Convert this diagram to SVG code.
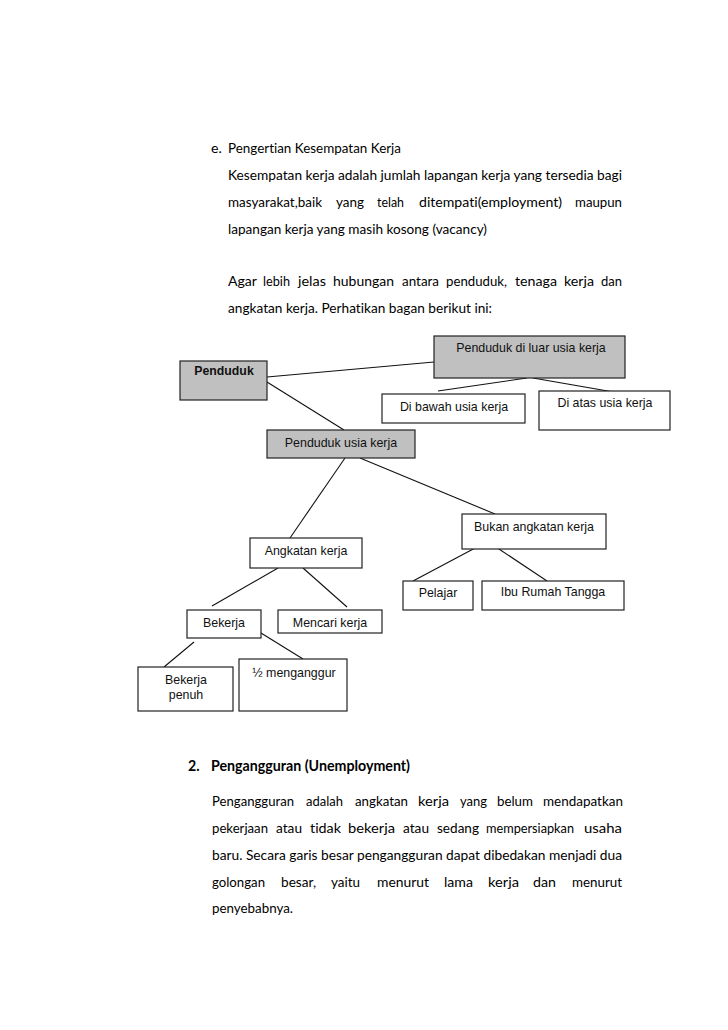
<svg xmlns="http://www.w3.org/2000/svg" width="728" height="1030" viewBox="0 0 728 1030">
<style>
text{font-variant-ligatures:none}
.p{font-family:Lato,"Open Sans","Liberation Sans",sans-serif;font-size:14.2px;fill:#000}
.pb{font-family:Lato,"Open Sans","Liberation Sans",sans-serif;font-size:14.2px;font-weight:bold;fill:#000}
.n{font-family:"Liberation Sans",Arial,sans-serif;font-size:12.4px;fill:#111;text-anchor:middle}
.nb{font-family:"Liberation Sans",Arial,sans-serif;font-size:12.3px;font-weight:bold;fill:#111;text-anchor:middle}
.g{fill:#c0c0c0;stroke:#222;stroke-width:1.2}
.w{fill:#fff;stroke:#222;stroke-width:1.2}
.c line{stroke:#111;stroke-width:1.1}
</style>
<rect width="728" height="1030" fill="#fff"/>
<g id="text-top">
<text class="p" x="211" y="153">e.</text>
<text class="p" x="228" y="153" textLength="173" lengthAdjust="spacingAndGlyphs">Pengertian Kesempatan Kerja</text>
<text class="p" x="228" y="180" textLength="394" lengthAdjust="spacingAndGlyphs">Kesempatan kerja adalah jumlah lapangan kerja yang tersedia bagi</text>
<text class="p" x="228" y="207" textLength="94" lengthAdjust="spacingAndGlyphs">masyarakat,baik</text>
<text class="p" x="336" y="207" textLength="28" lengthAdjust="spacingAndGlyphs">yang</text>
<text class="p" x="377" y="207" textLength="27" lengthAdjust="spacingAndGlyphs">telah</text>
<text class="p" x="419" y="207" textLength="143" lengthAdjust="spacingAndGlyphs">ditempati(employment)</text>
<text class="p" x="575" y="207" textLength="47" lengthAdjust="spacingAndGlyphs">maupun</text>
<text class="p" x="228" y="234" textLength="259" lengthAdjust="spacingAndGlyphs">lapangan kerja yang masih kosong (vacancy)</text>
<text class="p" x="228" y="286" textLength="29" lengthAdjust="spacingAndGlyphs">Agar</text>
<text class="p" x="263" y="286" textLength="27" lengthAdjust="spacingAndGlyphs">lebih</text>
<text class="p" x="298" y="286" textLength="28" lengthAdjust="spacingAndGlyphs">jelas</text>
<text class="p" x="333" y="286" textLength="61" lengthAdjust="spacingAndGlyphs">hubungan</text>
<text class="p" x="402" y="286" textLength="37" lengthAdjust="spacingAndGlyphs">antara</text>
<text class="p" x="446" y="286" textLength="61" lengthAdjust="spacingAndGlyphs">penduduk,</text>
<text class="p" x="515" y="286" textLength="42" lengthAdjust="spacingAndGlyphs">tenaga</text>
<text class="p" x="564" y="286" textLength="30" lengthAdjust="spacingAndGlyphs">kerja</text>
<text class="p" x="601" y="286" textLength="21" lengthAdjust="spacingAndGlyphs">dan</text>
<text class="p" x="228" y="313" textLength="264" lengthAdjust="spacingAndGlyphs">angkatan kerja. Perhatikan bagan berikut ini:</text>
</g>
<g class="c" id="connectors">
<line x1="267" y1="377" x2="434" y2="362"/>
<line x1="267" y1="382" x2="344" y2="430"/>
<line x1="527" y1="378" x2="438" y2="391"/>
<line x1="533" y1="378" x2="625" y2="394"/>
<line x1="345" y1="458" x2="290" y2="538"/>
<line x1="360" y1="458" x2="495" y2="514"/>
<line x1="278" y1="568" x2="212" y2="606"/>
<line x1="303" y1="568" x2="347" y2="607"/>
<line x1="477" y1="547" x2="413" y2="581"/>
<line x1="496" y1="547" x2="547" y2="581"/>
<line x1="194" y1="642" x2="164" y2="667"/>
<line x1="261" y1="633" x2="303" y2="659"/>
</g>
<g id="penduduk"><rect class="g" x="180" y="361" width="87" height="39"/><text class="nb" x="224" y="375">Penduduk</text></g>
<g id="luar-usia"><rect class="g" x="434" y="336" width="191" height="42"/><text class="n" x="531" y="352">Penduduk di luar usia kerja</text></g>
<g id="bawah-usia"><rect class="w" x="382" y="394" width="143" height="29"/><text class="n" x="454" y="411">Di bawah usia kerja</text></g>
<g id="atas-usia"><rect class="w" x="539" y="391" width="131" height="39"/><text class="n" x="605" y="407">Di atas usia kerja</text></g>
<g id="usia-kerja"><rect class="g" x="267" y="430" width="148" height="28"/><text class="n" x="341" y="447">Penduduk usia kerja</text></g>
<g id="angkatan"><rect class="w" x="250" y="538" width="112" height="30"/><text class="n" x="306" y="555">Angkatan kerja</text></g>
<g id="bukan-angkatan"><rect class="w" x="462" y="514" width="144" height="35"/><text class="n" x="534" y="531">Bukan angkatan kerja</text></g>
<g id="bekerja"><rect class="w" x="187" y="610" width="74" height="28"/><text class="n" x="224" y="627">Bekerja</text></g>
<g id="mencari"><rect class="w" x="278" y="610" width="104" height="23"/><text class="n" x="330" y="627">Mencari kerja</text></g>
<g id="pelajar"><rect class="w" x="403" y="581" width="70" height="29"/><text class="n" x="438" y="597">Pelajar</text></g>
<g id="ibu"><rect class="w" x="482" y="581" width="142" height="29"/><text class="n" x="553" y="596">Ibu Rumah Tangga</text></g>
<g id="penuh"><rect class="w" x="138" y="667" width="95" height="44"/><text class="n" x="186" y="684">Bekerja</text><text class="n" x="186" y="699">penuh</text></g>
<g id="setengah"><rect class="w" x="239" y="659" width="108" height="52"/><text class="n" x="294" y="677">½ menganggur</text></g>
<g id="text-bottom">
<text class="pb" x="188" y="771">2.</text>
<text class="pb" x="211" y="771" textLength="199" lengthAdjust="spacingAndGlyphs">Pengangguran (Unemployment)</text>
<text class="p" x="212" y="806" textLength="82" lengthAdjust="spacingAndGlyphs">Pengangguran</text>
<text class="p" x="306" y="806" textLength="37" lengthAdjust="spacingAndGlyphs">adalah</text>
<text class="p" x="355" y="806" textLength="53" lengthAdjust="spacingAndGlyphs">angkatan</text>
<text class="p" x="418" y="806" textLength="31" lengthAdjust="spacingAndGlyphs">kerja</text>
<text class="p" x="460" y="806" textLength="27" lengthAdjust="spacingAndGlyphs">yang</text>
<text class="p" x="497" y="806" textLength="36" lengthAdjust="spacingAndGlyphs">belum</text>
<text class="p" x="543" y="806" textLength="80" lengthAdjust="spacingAndGlyphs">mendapatkan</text>
<text class="p" x="212" y="833" textLength="56" lengthAdjust="spacingAndGlyphs">pekerjaan</text>
<text class="p" x="276" y="833" textLength="26" lengthAdjust="spacingAndGlyphs">atau</text>
<text class="p" x="310" y="833" textLength="31" lengthAdjust="spacingAndGlyphs">tidak</text>
<text class="p" x="348" y="833" textLength="47" lengthAdjust="spacingAndGlyphs">bekerja</text>
<text class="p" x="403" y="833" textLength="26" lengthAdjust="spacingAndGlyphs">atau</text>
<text class="p" x="437" y="833" textLength="42" lengthAdjust="spacingAndGlyphs">sedang</text>
<text class="p" x="486" y="833" textLength="88" lengthAdjust="spacingAndGlyphs">mempersiapkan</text>
<text class="p" x="584" y="833" textLength="38" lengthAdjust="spacingAndGlyphs">usaha</text>
<text class="p" x="212" y="860" textLength="410" lengthAdjust="spacingAndGlyphs">baru. Secara garis besar pengangguran dapat dibedakan menjadi dua</text>
<text class="p" x="212" y="887" textLength="53" lengthAdjust="spacingAndGlyphs">golongan</text>
<text class="p" x="281" y="887" textLength="35" lengthAdjust="spacingAndGlyphs">besar,</text>
<text class="p" x="331" y="887" textLength="29" lengthAdjust="spacingAndGlyphs">yaitu</text>
<text class="p" x="377" y="887" textLength="52" lengthAdjust="spacingAndGlyphs">menurut</text>
<text class="p" x="444" y="887" textLength="29" lengthAdjust="spacingAndGlyphs">lama</text>
<text class="p" x="488" y="887" textLength="31" lengthAdjust="spacingAndGlyphs">kerja</text>
<text class="p" x="533" y="887" textLength="23" lengthAdjust="spacingAndGlyphs">dan</text>
<text class="p" x="572" y="887" textLength="50" lengthAdjust="spacingAndGlyphs">menurut</text>
<text class="p" x="212" y="913" textLength="81" lengthAdjust="spacingAndGlyphs">penyebabnya.</text>
</g>
</svg>
